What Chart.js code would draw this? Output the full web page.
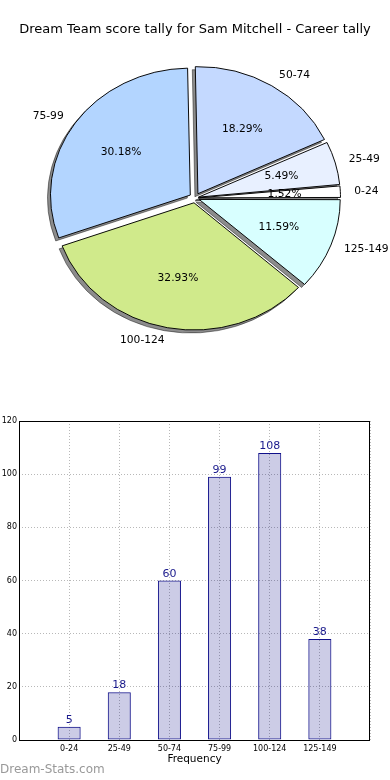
<!DOCTYPE html>
<html>
<head>
<meta charset="utf-8">
<script src="https://cdn.jsdelivr.net/npm/chart.js@4.4.1/dist/chart.umd.min.js"></script>
<style>
  body { margin: 0; background: #fff; }
  #wrap { position: relative; width: 390px; height: 780px; overflow: hidden; }
  #pie { position: absolute; left: 0; top: 0; }
  #bars { position: absolute; left: 0; top: 400px; }
  #mark { position: absolute; left: 0; top: 762px; font: 12px "DejaVu Sans", sans-serif; color: #999; }
</style>
</head>
<body>
<div id="wrap">
  <canvas id="pie" width="390" height="400"></canvas>
  <canvas id="bars" width="390" height="380"></canvas>
  <div id="mark">Dream-Stats.com</div>
</div>
<script>
const titleText = 'Dream Team score tally for Sam Mitchell - Career tally';
const categories = ['0-24', '25-49', '50-74', '75-99', '100-124', '125-149'];
const counts = [5, 18, 60, 99, 108, 38];
const sliceColors = ['#ffffff', '#e8f0ff', '#c4d9ff', '#b3d5ff', '#d0ea8b', '#d8ffff'];
const yTicks = [0, 20, 40, 60, 80, 100, 120];

const total = counts.reduce((a, b) => a + b, 0);
const EXPLODE = 6;      // px the slices are pushed out
const SQUASH = 0.908;   // pie is an ellipse in the original
const FONT = '"DejaVu Sans", sans-serif';

// matplotlib goes counter-clockwise from 3 o'clock, chart.js clockwise -> reverse
const pieLabels = categories.slice().reverse();
const pieData = counts.slice().reverse();
const pieColors = sliceColors.slice().reverse();

// squash the pie vertically and draw the drop shadows under all slices
const squashPlugin = {
  id: 'squash',
  beforeDatasetsDraw(chart) {
    const arcs = chart.getDatasetMeta(0).data;
    const ctx = chart.ctx;
    const cx = arcs[0].x, cy = arcs[0].y;
    ctx.save();
    ctx.translate(cx, cy);
    ctx.scale(1, SQUASH);
    ctx.translate(-cx, -cy);
    ctx.save();
    ctx.translate(-3000, 0);
    ctx.shadowColor = 'rgba(0,0,0,0.45)';
    ctx.shadowBlur = 0;
    ctx.shadowOffsetX = 3000 - 3;
    ctx.shadowOffsetY = 3;
    arcs.forEach(a => a.draw(ctx));
    ctx.restore();
  },
  afterDatasetsDraw(chart) {
    chart.ctx.restore();
  }
};

const pieLabelPlugin = {
  id: 'pieLabels',
  afterDraw(chart) {
    const ctx = chart.ctx;
    const arcs = chart.getDatasetMeta(0).data;
    ctx.save();
    ctx.font = '10.7px ' + FONT;
    ctx.fillStyle = '#000';
    ctx.textBaseline = 'middle';
    arcs.forEach((a, i) => {
      const mid = (a.startAngle + a.endAngle) / 2;
      const c = Math.cos(mid), s = Math.sin(mid);
      const r = a.outerRadius;
      const dl = EXPLODE + 1.1 * r;
      ctx.textAlign = c > 0 ? 'left' : 'right';
      ctx.fillText(pieLabels[i], a.x + dl * c, a.y + dl * s * SQUASH);
      const dp = EXPLODE + 0.6 * r;
      ctx.textAlign = 'center';
      ctx.fillText((pieData[i] / total * 100).toFixed(2) + '%', a.x + dp * c, a.y + dp * s * SQUASH);
    });
    ctx.restore();
  }
};

new Chart(document.getElementById('pie'), {
  type: 'pie',
  data: {
    labels: pieLabels,
    datasets: [{
      data: pieData,
      backgroundColor: pieColors,
      borderColor: '#000',
      borderWidth: 1,
      hoverOffset: 0,
      offset: c => {
        const circ = 2 * Math.PI * c.raw / total;
        return 4 * EXPLODE / (2 - Math.sin(Math.min(Math.PI, circ)));
      }
    }]
  },
  options: {
    responsive: false,
    animation: false,
    events: [],
    rotation: 90,
    radius: 139.5,
    layout: { padding: { top: 0, bottom: 41.6, left: 0, right: 0 } },
    plugins: {
      legend: { display: false },
      tooltip: { enabled: false },
      title: {
        display: true,
        text: titleText,
        color: '#000',
        font: { family: FONT, size: 13, weight: 'normal' },
        padding: { top: 22, bottom: 0 }
      }
    }
  },
  plugins: [squashPlugin, pieLabelPlugin]
});

// bar chart
const barLabels = [''].concat(categories, ['']);
const barData = [null].concat(counts, [null]);

const valuePlugin = {
  id: 'values',
  afterDatasetsDraw(chart) {
    const ctx = chart.ctx;
    ctx.save();
    ctx.font = '11px ' + FONT;
    ctx.fillStyle = '#1a1a8c';
    ctx.textAlign = 'center';
    ctx.textBaseline = 'alphabetic';
    chart.getDatasetMeta(0).data.forEach((bar, i) => {
      if (barData[i] == null) return;
      ctx.fillText(String(barData[i]), bar.x, bar.y - 4);
    });
    ctx.restore();
  }
};

const framePlugin = {
  id: 'frame',
  afterDraw(chart) {
    const a = chart.chartArea;
    const ctx = chart.ctx;
    ctx.save();
    ctx.strokeStyle = '#000';
    ctx.lineWidth = 1;
    ctx.strokeRect(Math.round(a.left) + 0.5, Math.round(a.top) + 0.5,
      Math.round(a.right - a.left) - 1, Math.round(a.bottom - a.top));
    ctx.restore();
  }
};

new Chart(document.getElementById('bars'), {
  type: 'bar',
  data: {
    labels: barLabels,
    datasets: [{
      data: barData,
      backgroundColor: 'rgba(0,0,128,0.2)',
      borderColor: '#10108a',
      borderWidth: 1,
      borderSkipped: false,
      categoryPercentage: 1,
      barPercentage: 0.46
    }]
  },
  options: {
    responsive: false,
    animation: false,
    events: [],
    layout: { padding: { top: 21, right: 20, left: 0, bottom: 0 } },
    plugins: { legend: { display: false }, tooltip: { enabled: false } },
    scales: {
      x: {
        offset: false,
        grid: { color: '#b8b8b8', lineWidth: 1, drawTicks: false, offset: false },
        border: { display: false, dash: [1, 2] },
        ticks: { color: '#000', font: { family: FONT, size: 8 }, padding: 4, maxRotation: 0, autoSkip: false },
        title: { display: true, text: 'Frequency', color: '#000', font: { family: FONT, size: 10.5 }, padding: { top: 0, bottom: 14 } },
        afterFit(scale) { scale.height = 40; }
      },
      y: {
        min: yTicks[0],
        max: yTicks[yTicks.length - 1],
        grid: { color: '#b8b8b8', lineWidth: 1, drawTicks: false },
        border: { display: false, dash: [1, 2] },
        afterBuildTicks(scale) { scale.ticks = yTicks.map(v => ({ value: v })); },
        ticks: { color: '#000', font: { family: FONT, size: 8 }, padding: 2 },
        afterFit(scale) { scale.width = 19; }
      }
    }
  },
  plugins: [valuePlugin, framePlugin]
});
</script>
</body>
</html>
